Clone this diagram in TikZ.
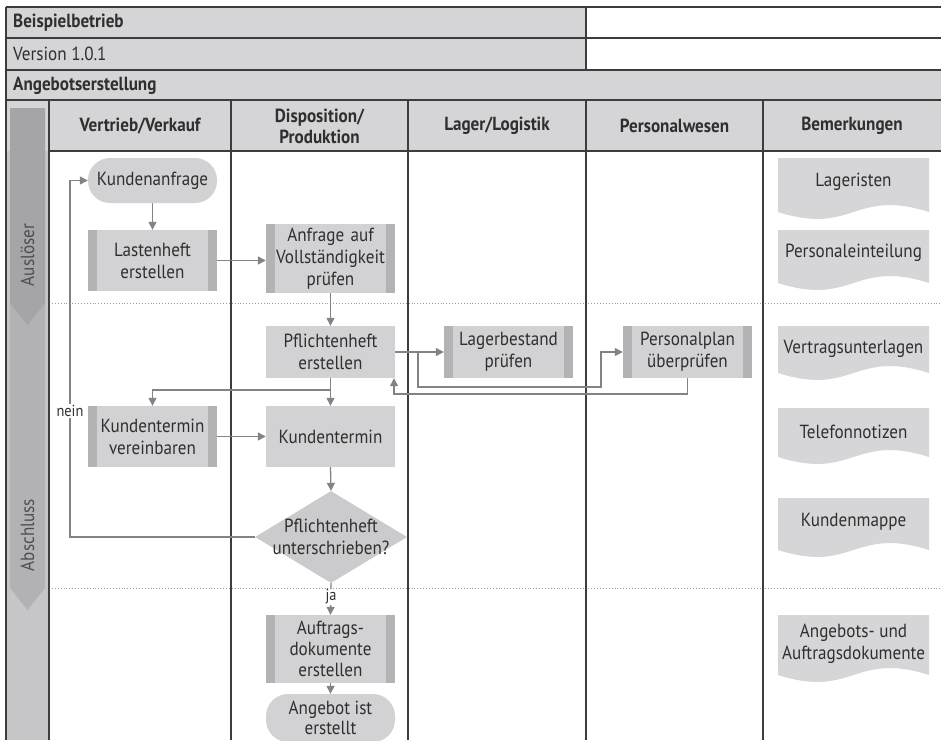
\documentclass[tikz,border=0pt]{standalone}
\usepackage{fontspec}
\setmainfont{PT Sans}[FakeStretch=0.9]
\usetikzlibrary{arrows.meta,shapes.geometric,calc}

\definecolor{linegray}{HTML}{838386}
\definecolor{boxfill}{HTML}{D2D2D4}
\definecolor{barfill}{HTML}{B3B3B6}
\definecolor{decfill}{HTML}{CBCBCD}
\definecolor{hdrfill}{HTML}{D5D5D7}
\definecolor{docfill}{HTML}{D6D6D8}
\definecolor{txt}{HTML}{2F2F2F}
\definecolor{rule}{HTML}{3C3C3C}
\definecolor{bandA}{HTML}{A5A5A8}
\definecolor{bandB}{HTML}{B2B2B5}
\definecolor{bandC}{HTML}{C6C6C9}
\definecolor{dotgray}{HTML}{9C9C9E}

\begin{document}
\begin{tikzpicture}[x=1pt,y=-1pt,
  font=\fontsize{19}{22}\selectfont, text=txt,
  flow/.style={draw=linegray, line width=1.3pt, -{Triangle[length=8pt,width=8pt]}},
  proc/.style={fill=boxfill, minimum width=129pt, inner sep=0pt,
    align=center, text width=118pt},
  subproc/.style={proc, path picture={
      \fill[barfill] (path picture bounding box.north west) rectangle
        ([xshift=9pt]path picture bounding box.south west);
      \fill[barfill] (path picture bounding box.north east) rectangle
        ([xshift=-9pt]path picture bounding box.south east);}},
  term/.style={fill=boxfill, rounded corners=22pt, minimum width=129pt,
    inner sep=0pt, align=center},
  decision/.style={diamond, fill=decfill, minimum width=152pt,
    minimum height=92pt, inner sep=0pt},
  rowlabel/.style={anchor=west, inner sep=0pt},
  colhead/.style={font=\fontsize{19}{21}\selectfont\bfseries, align=center, inner sep=0pt},
  branchlabel/.style={fill=white, inner sep=1.5pt, font=\fontsize{16}{18}\selectfont},
  tableline/.style={draw=rule, line width=1.2pt},
  lanesep/.style={draw=dotgray, line width=0.9pt, dotted},
]
\useasboundingbox (0,0) rectangle (941,740);

% ---------- table header ----------
\fill[hdrfill] (6,7) rectangle (586,70);
\fill[hdrfill] (6,70) rectangle (941,151);
\fill[bandC] (6,151) rectangle (49,740);

% phase band on the left
\fill[bandB] (10,300) -- (45,300) -- (45,588) -- (27.5,610) -- (10,588) -- cycle;
\fill[bandA] (10,108) -- (45,108) -- (45,303) -- (27.5,325) -- (10,303) -- cycle;
\node[rotate=90, text=txt!85] (phase1) at (27.5,255) {Auslöser};
\node[rotate=90, text=txt!85] (phase2) at (27.5,535) {Abschluss};

% lane separators between the phases
\draw[lanesep] (49,303) -- (941,303);
\draw[lanesep] (49,588) -- (941,588);

% grid lines
\draw[tableline] (6,7) -- (941,7);
\draw[tableline] (6,38) -- (941,38);
\draw[tableline] (6,70) -- (941,70);
\draw[tableline] (6,100) -- (941,100);
\draw[tableline] (49,151) -- (941,151);
\draw[tableline] (6,7) -- (6,740);
\draw[tableline] (586,7) -- (586,70);
\foreach \xx in {49,231,408,586,763} \draw[tableline] (\xx,100) -- (\xx,740);

\node[rowlabel, font=\fontsize{19}{21}\selectfont\bfseries] (title) at (13,22.5) {Beispielbetrieb};
\node[rowlabel] (version) at (13,54) {Version 1.0.1};
\node[rowlabel, font=\fontsize{19}{21}\selectfont\bfseries] (process) at (13,85.5) {Angebotserstellung};

\node[colhead] (h1) at (140,126) {Vertrieb/Verkauf};
\node[colhead] (h2) at (319.5,126) {Disposition/\\Produktion};
\node[colhead] (h3) at (497,126) {Lager/Logistik};
\node[colhead] (h4) at (674.5,126) {Personalwesen};
\node[colhead] (h5) at (852,126) {Bemerkungen};

% ---------- process steps ----------
\node[term, minimum height=45pt] (k1) at (152.5,180.5) {Kundenanfrage};
\node[subproc, minimum height=61pt] (lh) at (152.5,260.5) {Lastenheft\\erstellen};
\node[subproc, minimum height=69pt] (avp) at (330.5,258.5) {Anfrage auf\\Vollständigkeit\\prüfen};
\node[proc, minimum height=52pt] (pe) at (330.5,352) {Pflichtenheft\\erstellen};
\node[subproc, minimum height=52pt] (lag) at (508.5,352) {Lagerbestand\\prüfen};
\node[subproc, minimum height=52pt] (pp) at (687.5,352) {Personalplan\\überprüfen};
\node[subproc, minimum height=61pt] (kv) at (152.5,436.5) {Kundentermin\\vereinbaren};
\node[proc, minimum height=61pt] (kt) at (330.5,436.5) {Kundentermin};
\node[decision] (dec) at (331,537) {};
\node[align=center, inner sep=0pt] (decT) at (331,537) {Pflichtenheft\\unterschrieben?};
\node[subproc, minimum height=68pt, font=\fontsize{19}{21}\selectfont] (ad) at (330.5,649) {Auftrags-\\dokumente\\erstellen};
\node[term, minimum height=48pt, font=\fontsize{19}{20.5}\selectfont] (fin) at (330.5,718) {Angebot ist\\erstellt};

% ---------- connectors ----------
\draw[flow] (k1.south) -- (lh.north);
\draw[flow] (lh.east) -- (lh.east -| avp.west);
\draw[flow] (avp.south) -- (pe.north);
\draw[flow] (pe.east) -- (lag.west);
\coordinate (b1) at (418,352);
\coordinate (b2) at (601,387);
\draw[flow] (b1) |- (b2) |- (pp.west);
\coordinate (r1) at (394,394);
\draw[flow] (pp.south) |- (r1) -- (r1 |- pe.south);
\draw[flow] (pe.south) -- (kt.north);
\coordinate (b3) at (330.5,390);
\draw[flow] (b3) -| (kv.north);
\draw[flow] (kv.east) -- (kt.west);
\draw[flow] (kt.south) -- (dec.north);
\coordinate (n1) at (70,537);
\draw[flow] (dec.west) -- (n1) |- (k1.west);
\node[branchlabel] (nein) at (70,411) {nein};
\draw[flow] (dec.south) -- (ad.north);
\node[branchlabel, inner sep=0.5pt] (ja) at (331,597) {ja};
\draw[flow] (ad.south) -- (fin.north);

% ---------- documents in the remarks column ----------
\foreach \nm/\top/\bot/\ty/\lbl in {
    d1/158/212/182/{Lageristen},
    d2/230/283/253/{Personaleinteilung},
    d3/326/373/349/{Vertragsunterlagen},
    d4/408/457/432/{Telefonnotizen},
    d5/498/550/522/{Kundenmappe},
    d6/615/675/644/{Angebots- und\\Auftragsdokumente}} {
  \fill[docfill] (778,\top) -- (929,\top) -- (929,\bot)
    .. controls (853.5,\bot-24) and (853.5,\bot+24) .. (778,\bot) -- cycle;
  \node[align=center, inner sep=0pt] (\nm) at (853.5,\ty) {\lbl};
}
\end{tikzpicture}
\end{document}
